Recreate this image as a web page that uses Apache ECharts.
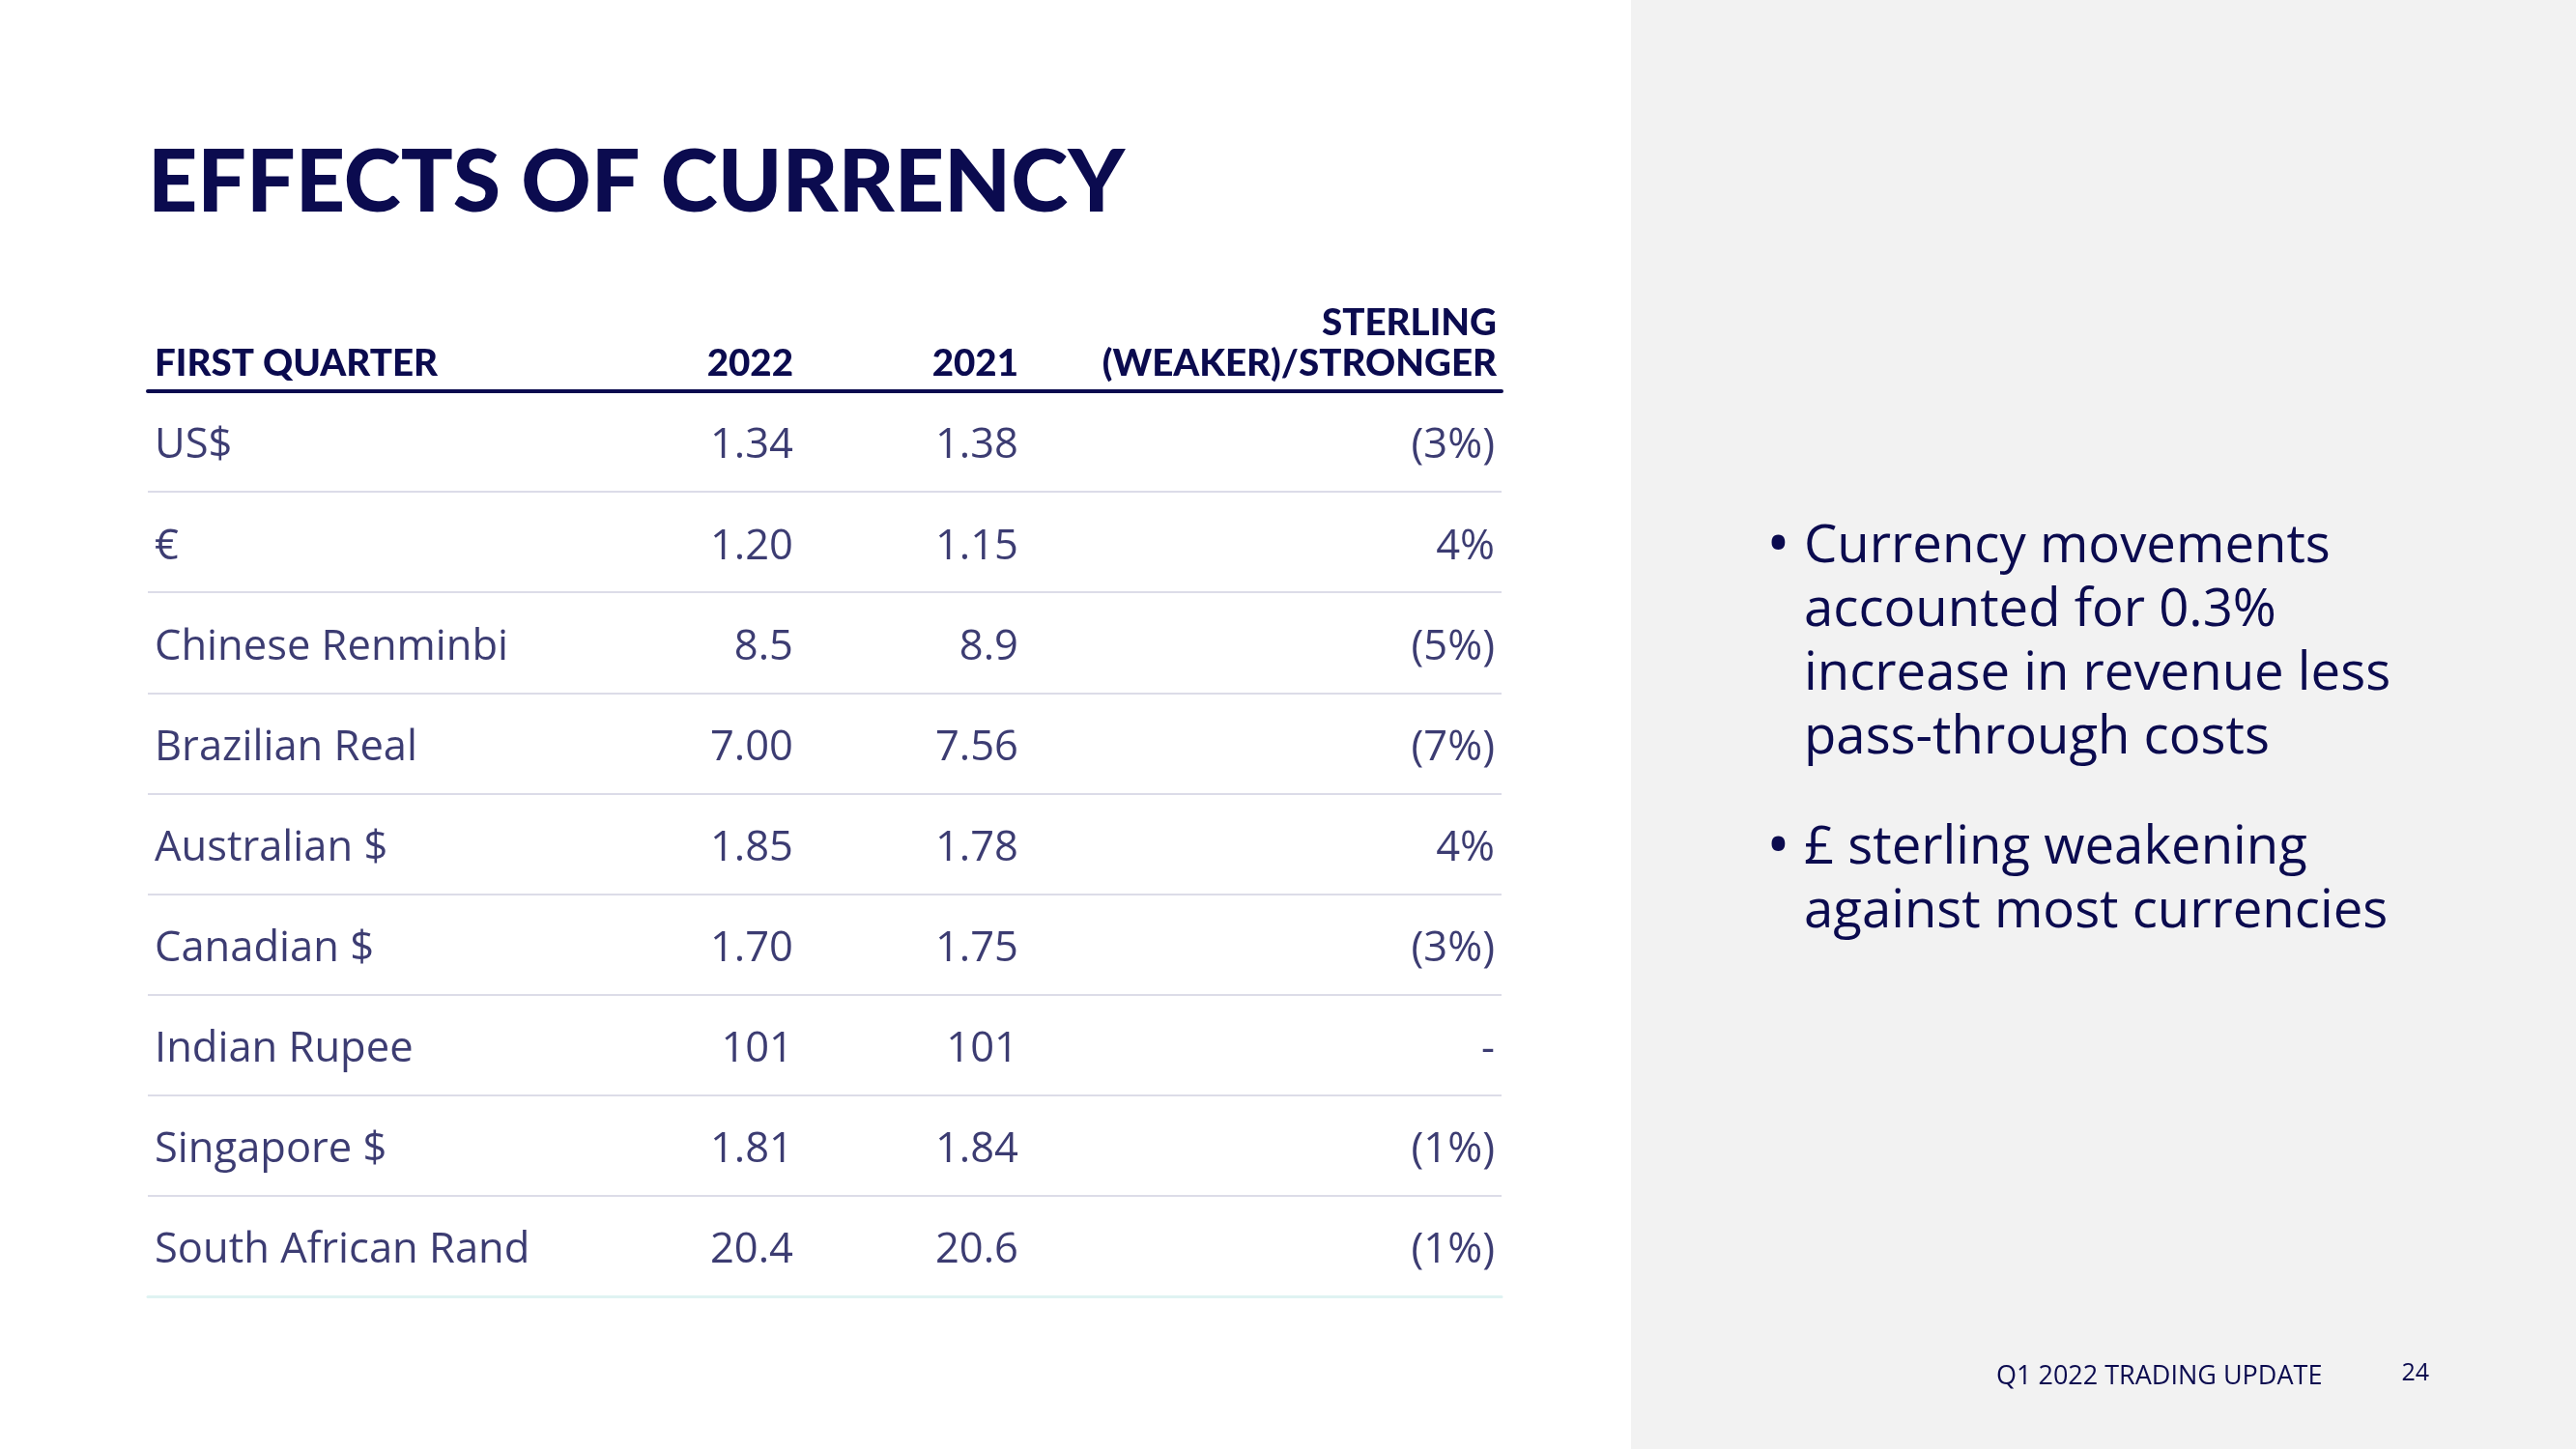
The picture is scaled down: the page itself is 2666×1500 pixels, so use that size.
<!DOCTYPE html>
<html>
<head>
<meta charset="utf-8">
<script src="https://cdn.jsdelivr.net/npm/echarts@6/dist/echarts.min.js"></script>
<style>
html,body{margin:0;padding:0;background:#fff;}
#chart{width:2666px;height:1500px;}
</style>
</head>
<body>
<div id="chart"></div>
<script>
// ---- data ----
const currencies = ['US$', '€', 'Chinese Renminbi', 'Brazilian Real', 'Australian $', 'Canadian $', 'Indian Rupee', 'Singapore $', 'South African Rand'];
const rate2022 = [1.34, 1.20, 8.5, 7.00, 1.85, 1.70, 101, 1.81, 20.4];
const rate2021 = [1.38, 1.15, 8.9, 7.56, 1.78, 1.75, 101, 1.84, 20.6];
const decimals = [2, 2, 1, 2, 2, 2, 0, 2, 1];
const sterlingChange = [-3, 4, -5, -7, 4, -3, 0, -1, -1];
const headers = ['FIRST QUARTER', '2022', '2021', 'STERLING', '(WEAKER)/STRONGER'];
const titleText = 'EFFECTS OF CURRENCY';
const bullets = [
  ['Currency movements', 'accounted for 0.3%', 'increase in revenue less', 'pass-through costs'],
  ['£ sterling weakening', 'against most currencies']
];
const footerText = 'Q1 2022 TRADING UPDATE';
const pageNumber = '24';

// ---- styling / layout ----
const NAVY = '#0b0b4f';
const colAnchor = { label: 0.5, c2022: 47.68, c2021: 64.31, change: 99.5 }; // % of table width
const fmtChange = v => v === 0 ? '-' : (v < 0 ? '(' + Math.abs(v) + '%)' : v + '%');

function cellSeries(name, xPos, texts, pos) {
  return {
    name: name,
    type: 'scatter',
    xAxisIndex: 0,
    yAxisIndex: 0,
    symbolSize: 0,
    silent: true,
    data: currencies.map((c, i) => ({ value: [xPos, c], label: { formatter: texts[i] } })),
    label: {
      show: true,
      position: pos,
      distance: 0,
      offset: [0, 5],
      color: NAVY,
      fontFamily: 'Open Sans',
      fontSize: 43.5,
      fontWeight: 400
    }
  };
}

const chart = echarts.init(document.getElementById('chart'), null, { renderer: 'canvas' });

const HFONT = '900 38.5px Lato';
const graphics = [
  { type: 'rect', shape: { x: 1688, y: 0, width: 978, height: 1500 }, style: { fill: '#f2f2f2' }, z: -10 },
  { type: 'text', x: 153, y: 190, style: { text: titleText, fill: NAVY, font: '900 89.5px Lato', textVerticalAlign: 'middle' } },
  { type: 'text', x: 160, y: 377, style: { text: headers[0], fill: NAVY, font: HFONT, textVerticalAlign: 'middle' } },
  { type: 'text', x: 821, y: 377, style: { text: headers[1], fill: NAVY, font: HFONT, textAlign: 'right', textVerticalAlign: 'middle' } },
  { type: 'text', x: 1054, y: 377, style: { text: headers[2], fill: NAVY, font: HFONT, textAlign: 'right', textVerticalAlign: 'middle' } },
  { type: 'text', x: 1549, y: 335, style: { text: headers[3], fill: NAVY, font: HFONT, textAlign: 'right', textVerticalAlign: 'middle' } },
  { type: 'text', x: 1549, y: 377, style: { text: headers[4], fill: NAVY, font: HFONT, textAlign: 'right', textVerticalAlign: 'middle' } },
  { type: 'text', x: 2066, y: 1425, style: { text: footerText, fill: NAVY, font: '400 27px "Open Sans"', textVerticalAlign: 'middle' } },
  { type: 'text', x: 2514, y: 1422, style: { text: pageNumber, fill: NAVY, font: '400 25px "Open Sans"', textAlign: 'right', textVerticalAlign: 'middle' } }
];
const bulletStart = [566, 878];
bullets.forEach((lines, b) => {
  graphics.push({ type: 'text', x: 1828, y: bulletStart[b], style: { text: '•', fill: NAVY, font: '400 66px "Open Sans"', textVerticalAlign: 'middle' } });
  lines.forEach((ln, k) => {
    graphics.push({ type: 'text', x: 1867, y: bulletStart[b] + k * 66, style: { text: ln, fill: NAVY, font: '400 54.5px "Open Sans"', textVerticalAlign: 'middle' } });
  });
});

chart.setOption({
  backgroundColor: '#ffffff',
  animation: false,
  graphic: graphics,
  grid: { left: 153, top: 405, width: 1401, height: 937, containLabel: false },
  xAxis: [
    { type: 'value', min: 0, max: 100, position: 'top',
      axisLine: { show: true, onZero: false, lineStyle: { color: NAVY, width: 4 } },
      axisTick: { show: false }, axisLabel: { show: false }, splitLine: { show: false } },
    { type: 'value', min: 0, max: 100, position: 'bottom',
      axisLine: { show: true, onZero: false, lineStyle: { color: '#dff3f2', width: 3 } },
      axisTick: { show: false }, axisLabel: { show: false }, splitLine: { show: false } }
  ],
  yAxis: {
    type: 'category', data: currencies, inverse: true, boundaryGap: true,
    axisLine: { show: false }, axisTick: { show: false }, axisLabel: { show: false },
    splitLine: { show: true, lineStyle: { color: '#dcdce8', width: 2 } }
  },
  series: [
    cellSeries('label', colAnchor.label, currencies, 'right'),
    cellSeries('2022', colAnchor.c2022, rate2022.map((v, i) => v.toFixed(decimals[i])), 'left'),
    cellSeries('2021', colAnchor.c2021, rate2021.map((v, i) => v.toFixed(decimals[i])), 'left'),
    cellSeries('change', colAnchor.change, sterlingChange.map(fmtChange), 'left')
  ]
});
</script>
</body>
</html>
